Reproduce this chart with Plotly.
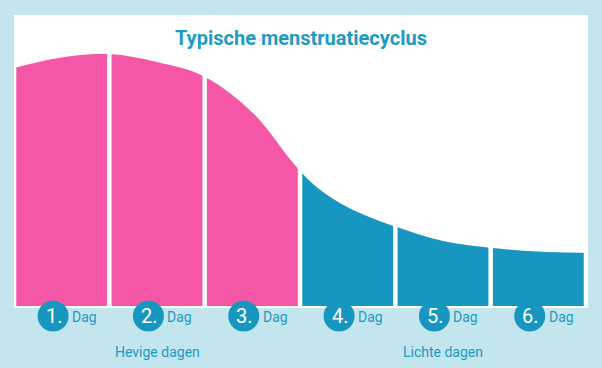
import plotly.graph_objects as go

# ---- data ----
days = ["1.", "2.", "3.", "4.", "5.", "6."]
day_word = "Dag"
groups = ["Hevige dagen", "Lichte dagen"]
group_days = [[0, 1, 2], [3, 4, 5]]
title = "Typische menstruatiecyclus"

# flow curve: position in days (0..6) and relative intensity
heavy_x = [0, 0.5, 1, 1.5, 2, 2.5, 2.9, 3]
heavy_y = [94.4, 98.6, 100, 96.8, 91.0, 76.8, 58.0, 53.6]
light_x = [3, 3.19, 3.5, 4, 4.5, 5, 5.5, 6]
light_y = [53.6, 46.7, 39.2, 31.5, 25.8, 23.1, 21.6, 21.1]

PINK = "#f557a6"
BLUE = "#1797bf"
BG = "#c2e5ee"
TXT = "#1f9ac3"
FONT = "Roboto, sans-serif"

fig = go.Figure()
fig.add_trace(go.Scatter(x=heavy_x, y=heavy_y, mode="lines", line=dict(shape="spline", width=0, color=PINK),
                         fill="tozeroy", fillcolor=PINK, hoverinfo="skip"))
fig.add_trace(go.Scatter(x=light_x, y=light_y, mode="lines", line=dict(shape="spline", width=0, color=BLUE),
                         fill="tozeroy", fillcolor=BLUE, hoverinfo="skip"))

# white separators between days
for b in range(len(days) + 1):
    fig.add_trace(go.Scatter(x=[b, b], y=[0, 110], mode="lines", line=dict(color="white", width=4.5),
                             hoverinfo="skip"))

fig.add_shape(type="rect", xref="paper", yref="paper", x0=0, x1=(588 - 14) / 572,
              y0=-2 / 252, y1=(306 - 15) / 252, fillcolor="white", line=dict(width=0), layer="below")

centers = [i + 0.5 for i in range(len(days))]
annotations = [dict(text="<b>" + title + "</b>", xref="paper", yref="paper", x=(301 - 14) / 572,
                    y=(306 - 38) / 252, showarrow=False, xanchor="center", yanchor="middle",
                    font=dict(color=TXT, size=20, family=FONT))]
cy = (306 - 316) / 252
for c, lab in zip(centers, days):
    cx = c - 0.09
    fig.add_shape(type="circle", xref="x", yref="paper", xsizemode="pixel", ysizemode="pixel",
                  xanchor=cx, yanchor=cy, x0=-15.5, x1=15.5, y0=-15.5, y1=15.5,
                  fillcolor=BLUE, line=dict(width=0), layer="above")
    annotations.append(dict(text=lab, x=cx, y=cy, xref="x", yref="paper", showarrow=False,
                            xanchor="center", yanchor="middle", xshift=1, yshift=0,
                            font=dict(color="white", size=20, family=FONT)))
    annotations.append(dict(text=day_word, x=cx, y=(306 - 317) / 252, xref="x", yref="paper",
                            showarrow=False, xanchor="left", yanchor="middle", xshift=17,
                            font=dict(color=TXT, size=14, family=FONT)))
for g, lab in zip(group_days, groups):
    gx = sum(centers[i] for i in g) / len(g)
    annotations.append(dict(text=lab, x=gx, y=(306 - 352) / 252, xref="x", yref="paper",
                            showarrow=False, xanchor="center", yanchor="middle",
                            font=dict(color=TXT, size=14, family=FONT)))

fig.update_layout(
    width=602, height=368,
    margin=dict(l=14, r=16, t=54, b=62),
    paper_bgcolor=BG, plot_bgcolor="white",
    showlegend=False,
    xaxis=dict(range=[0, 6], visible=False, fixedrange=True),
    yaxis=dict(range=[0, 100], visible=False, fixedrange=True),
    annotations=annotations,
)
fig.write_html("out.html", config={"displayModeBar": False},
               post_script="document.body.style.margin='0';document.body.style.background='%s';" % BG)
